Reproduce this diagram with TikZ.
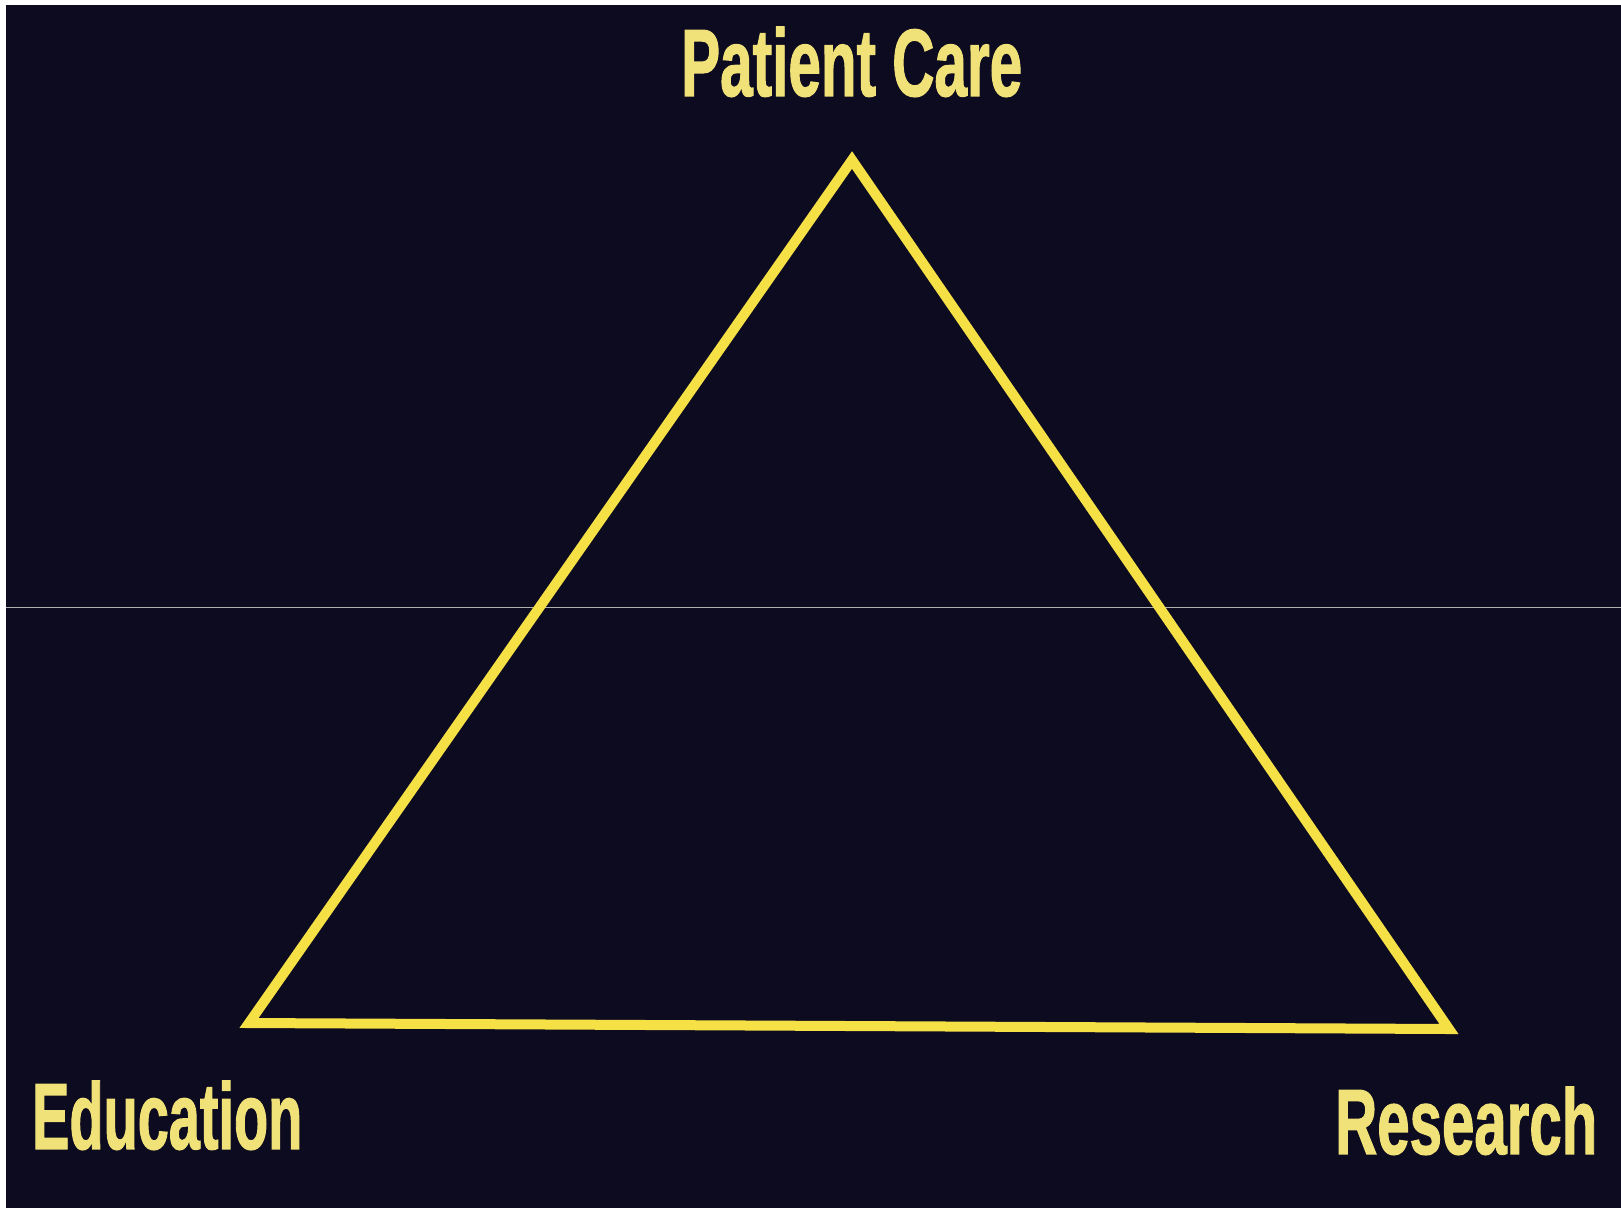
\documentclass[tikz,border=0pt]{standalone}
\usepackage{fontspec}
\setmainfont{Liberation Sans}[BoldFeatures={FakeBold=1.6}]
\usepackage{graphicx}
\definecolor{bg}{RGB}{13,11,32}
\definecolor{tri}{RGB}{245,225,70}
\definecolor{txt}{RGB}{240,226,120}
\definecolor{scanline}{RGB}{175,175,175}
\begin{document}
\begin{tikzpicture}[x=1pt,y=-1pt,
  lbl/.style={inner sep=0pt, anchor=south west, text=txt},
  edge/.style={draw=tri, line width=10pt, line join=miter}]
\useasboundingbox (0,0) rectangle (1621,1208);
\fill[white] (0,0) rectangle (1621,1208);
\fill[bg] (6,5) rectangle (1621,1208);
\draw[scanline, line width=1pt] (6,607) -- (1621,607);
\coordinate (apex) at (852,160);
\coordinate (bl) at (249,1023);
\coordinate (br) at (1449,1029);
\draw[edge] (apex) -- (bl) -- (br) -- cycle;
\node[lbl] (pc) at (681,97) {\resizebox{341pt}{69pt}{\bfseries Patient Care}};
\node[lbl] (ed) at (32,1150) {\resizebox{270pt}{68pt}{\bfseries Education}};
\node[lbl] (re) at (1335,1155) {\resizebox{262pt}{67pt}{\bfseries Research}};
\end{tikzpicture}
\end{document}
